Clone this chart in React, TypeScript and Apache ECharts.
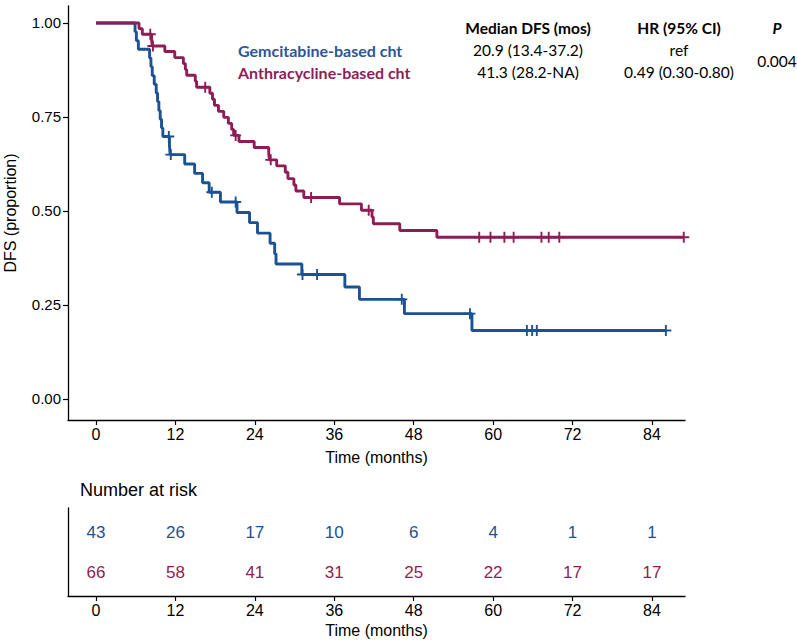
import React, { useEffect, useRef } from "react";
import * as echarts from "echarts";

// ---- Data ----
const blueName = "Gemcitabine-based cht";
const redName = "Anthracycline-based cht";

// Kaplan-Meier step points (time in months, DFS after the drop)
const blueTimes = [5.9, 6.1, 6.4, 8.1, 8.3, 8.5, 8.8, 9.1, 9.3, 9.5, 9.7, 9.9, 10.1, 11.1, 11.2, 13.4, 14.9, 16.1, 17.1, 18.8, 21.3, 23.2, 24.4, 26.3, 27.0, 27.2, 31.1, 37.6, 39.8, 46.6, 56.8];
const blueSurv = [0.977, 0.953, 0.930, 0.907, 0.884, 0.860, 0.837, 0.814, 0.791, 0.767, 0.744, 0.721, 0.698, 0.674, 0.650, 0.625, 0.600, 0.575, 0.550, 0.524, 0.496, 0.469, 0.441, 0.414, 0.386, 0.359, 0.331, 0.298, 0.265, 0.227, 0.182];
const blueCensor = [11.0, 11.3, 17.5, 21.1, 31.2, 33.4, 46.2, 56.5, 65.1, 65.9, 66.6, 86.1];

const redTimes = [6.5, 7.0, 8.4, 8.5, 10.4, 11.9, 13.2, 13.5, 13.7, 15.0, 15.2, 17.2, 17.6, 17.9, 18.5, 19.3, 20.0, 20.5, 20.8, 21.6, 23.9, 26.1, 26.2, 27.3, 28.6, 29.0, 29.9, 30.2, 31.4, 36.8, 40.1, 41.7, 41.9, 45.9, 51.5];
const redSurv = [0.985, 0.970, 0.955, 0.939, 0.924, 0.908, 0.892, 0.876, 0.861, 0.845, 0.829, 0.813, 0.797, 0.781, 0.765, 0.749, 0.733, 0.717, 0.701, 0.685, 0.669, 0.653, 0.636, 0.620, 0.603, 0.586, 0.569, 0.553, 0.536, 0.519, 0.502, 0.484, 0.466, 0.448, 0.430];
const redCensor = [8.2, 8.6, 16.5, 21.1, 26.4, 32.5, 41.2, 57.9, 59.6, 61.7, 63.1, 67.3, 68.4, 70.0, 88.8];

const timeTicks = [0, 12, 24, 36, 48, 60, 72, 84];
const survTicks = [0, 0.25, 0.5, 0.75, 1];
const blueRisk = [43, 26, 17, 10, 6, 4, 1, 1];
const redRisk = [66, 58, 41, 31, 25, 22, 17, 17];

const headerCols = ["Median DFS (mos)", "HR (95% CI)", "P"];
const blueStats = ["20.9 (13.4-37.2)", "ref"];
const redStats = ["41.3 (28.2-NA)", "0.49 (0.30-0.80)"];
const pValue = "0.004";

// ---- Styles ----
const BLUE = "#1B5293";
const RED = "#8F1D55";
const BLUE_TXT = "#2E5597";
const RED_TXT = "#8E1F57";
const AXIS_FONT = "'Liberation Sans', Arial, Helvetica, sans-serif";
const HEAD_FONT = "Lato, 'Open Sans', sans-serif";
const PLUS = "path://M5,0L5,10M0,5L10,5";

function stepData(times: number[], surv: number[], end: number) {
  const d: number[][] = [[0, 1]];
  times.forEach((t, i) => d.push([t, surv[i]]));
  d.push([end, surv[surv.length - 1]]);
  return d;
}
function survAt(times: number[], surv: number[], t: number) {
  let s = 1;
  for (let i = 0; i < times.length; i++) if (times[i] <= t) s = surv[i];
  return s;
}

const X_MIN = -4.23;
const X_MAX = 88.99;
const Y_MIN = -0.0559;
const Y_MAX = 1.0452;

function xAxisCfg(gridIndex: number, nameGap: number) {
  return {
    type: "value",
    gridIndex,
    min: X_MIN,
    max: X_MAX,
    name: "Time (months)",
    nameLocation: "middle",
    nameGap,
    nameTextStyle: { fontSize: 16, color: "#000", fontFamily: AXIS_FONT },
    axisLine: { show: true, onZero: false, lineStyle: { color: "#000", width: 1.3 } },
    axisTick: { show: true, length: 5, customValues: timeTicks, lineStyle: { color: "#000", width: 1.2 } },
    axisLabel: { customValues: timeTicks, fontSize: 16, color: "#000", margin: 6, fontFamily: AXIS_FONT },
    splitLine: { show: false },
  };
}

function riskSeries(name: string, row: number, counts: number[], color: string) {
  return {
    name,
    type: "scatter",
    xAxisIndex: 1,
    yAxisIndex: 1,
    symbolSize: 0,
    silent: true,
    itemStyle: { opacity: 1 },
    data: timeTicks.map((t, i) => [t, row, counts[i]]),
    label: {
      show: true,
      position: "inside",
      formatter: (p: any) => String(p.value[2]),
      fontSize: 17,
      color,
      opacity: 1,
      fontFamily: AXIS_FONT,
    },
  };
}

function headText(text: string, x: number, y: number, bold = false, italic = false) {
  return {
    type: "text",
    x,
    y,
    style: {
      text,
      fontSize: 15.5,
      fontWeight: bold ? "bold" : "normal",
      fontStyle: italic ? "italic" : "normal",
      fill: "#000",
      fontFamily: HEAD_FONT,
      textAlign: "center",
      textVerticalAlign: "middle",
    },
  };
}

export default function App() {
  const ref = useRef<HTMLDivElement>(null);
  useEffect(() => {
    if (!ref.current) return;
    const chart = echarts.init(ref.current, undefined, { renderer: "svg" });
    const blueEnd = Math.max(...blueCensor);
    const redEnd = Math.max(...redCensor);
    const option: any = {
      animation: false,
      backgroundColor: "#fff",
      grid: [
        { left: 68, top: 6, width: 617, height: 414, outerBoundsMode: "none" },
        { left: 68, top: 508, width: 617, height: 88, outerBoundsMode: "none" },
      ],
      xAxis: [xAxisCfg(0, 29), xAxisCfg(1, 26)],
      yAxis: [
        {
          type: "value",
          gridIndex: 0,
          min: Y_MIN,
          max: Y_MAX,
          name: "DFS (proportion)",
          nameLocation: "middle",
          nameGap: 50,
          nameTextStyle: { fontSize: 16, color: "#000", fontFamily: AXIS_FONT },
          axisLine: { show: true, onZero: false, lineStyle: { color: "#000", width: 1.3 } },
          axisTick: { show: true, length: 5, customValues: survTicks, lineStyle: { color: "#000", width: 1.2 } },
          axisLabel: {
            customValues: survTicks,
            fontSize: 15,
            color: "#000",
            margin: 7,
            fontFamily: AXIS_FONT,
            formatter: (v: number) => v.toFixed(2),
          },
          splitLine: { show: false },
        },
        {
          type: "value",
          gridIndex: 1,
          min: -0.6,
          max: 1.62,
          axisLine: { show: true, onZero: false, lineStyle: { color: "#000", width: 1.3 } },
          axisTick: { show: false },
          axisLabel: { show: false },
          splitLine: { show: false },
        },
      ],
      series: [
        {
          name: blueName,
          type: "line",
          step: "end",
          showSymbol: false,
          xAxisIndex: 0,
          yAxisIndex: 0,
          data: stepData(blueTimes, blueSurv, blueEnd),
          lineStyle: { color: BLUE, width: 2.9 },
          itemStyle: { color: BLUE },
          z: 3,
        },
        {
          name: redName,
          type: "line",
          step: "end",
          showSymbol: false,
          xAxisIndex: 0,
          yAxisIndex: 0,
          data: stepData(redTimes, redSurv, redEnd),
          lineStyle: { color: RED, width: 2.9 },
          itemStyle: { color: RED },
          z: 4,
        },
        {
          type: "scatter",
          xAxisIndex: 0,
          yAxisIndex: 0,
          symbol: PLUS,
          symbolSize: 11,
          silent: true,
          data: blueCensor.map((t) => [t, survAt(blueTimes, blueSurv, t)]),
          itemStyle: { color: BLUE, borderColor: BLUE, borderWidth: 1.9, opacity: 1 },
          z: 5,
        },
        {
          type: "scatter",
          xAxisIndex: 0,
          yAxisIndex: 0,
          symbol: PLUS,
          symbolSize: 11,
          silent: true,
          data: redCensor.map((t) => [t, survAt(redTimes, redSurv, t)]),
          itemStyle: { color: RED, borderColor: RED, borderWidth: 1.9, opacity: 1 },
          z: 6,
        },
        riskSeries(blueName, 1, blueRisk, BLUE),
        riskSeries(redName, 0, redRisk, RED),
      ],
      graphic: [
        { type: "text", left: 80, top: 481, style: { text: "Number at risk", fontSize: 18, fill: "#000", fontFamily: AXIS_FONT } },
        { type: "text", x: 238, y: 50, style: { text: blueName, fontSize: 16, fontWeight: "bold", fill: BLUE_TXT, fontFamily: HEAD_FONT, textVerticalAlign: "middle" } },
        { type: "text", x: 238, y: 72, style: { text: redName, fontSize: 16, fontWeight: "bold", fill: RED_TXT, fontFamily: HEAD_FONT, textVerticalAlign: "middle" } },
        headText(headerCols[0], 528, 28, true),
        headText(headerCols[1], 679, 28, true),
        headText(headerCols[2], 777, 28, true, true),
        headText(blueStats[0], 528, 50),
        headText(blueStats[1], 679, 50),
        headText(redStats[0], 528, 72),
        headText(redStats[1], 679, 72),
        headText(pValue, 777, 61),
      ],
    };
    chart.setOption(option);
    return () => chart.dispose();
  }, []);
  return <div ref={ref} style={{ width: 797, height: 641, position: "absolute", left: 0, top: 0 }} />;
}
